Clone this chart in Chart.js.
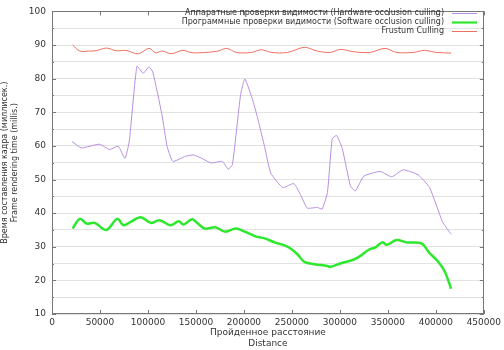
<!DOCTYPE html>
<html>
<head>
<meta charset="utf-8">
<script src="https://cdn.jsdelivr.net/npm/chart.js@4.4.0/dist/chart.umd.min.js"></script>
<style>
  body { margin: 0; background: #fff; }
</style>
</head>
<body>
<canvas id="chart" width="504" height="350"></canvas>
<script>
// distances (x) and frame times (y)
var hwX = [21000, 30500, 49500, 60000, 69000, 76000, 80500, 88500, 95000, 101000, 105000, 114500, 120000, 126000, 139000, 147500, 156000, 166000, 177500, 183500, 188000, 196500, 201000, 209500, 214500, 221500, 228000, 240500, 252000, 259500, 266000, 276500, 281500, 287000, 292000, 296500, 302500, 311000, 316000, 325000, 342000, 354000, 366000, 381500, 393500, 407000, 416000];
var hwY = [61.3, 59.4, 60.5, 58.9, 59.9, 56.3, 61.3, 83.7, 81.6, 83.5, 82.0, 69.4, 59.8, 55.4, 56.9, 57.3, 56.3, 54.9, 55.4, 53.1, 54.4, 75.2, 79.9, 73.3, 68.0, 59.8, 51.9, 47.6, 48.8, 45.2, 41.5, 41.7, 41.2, 46.1, 62.1, 63.1, 59.2, 48.1, 46.6, 51.0, 52.4, 50.8, 52.9, 51.4, 47.6, 37.4, 33.7];

var swX = [21500, 29000, 36000, 44500, 56500, 68000, 74500, 82000, 92500, 103000, 112000, 123500, 132000, 137000, 146000, 152000, 159500, 170000, 180500, 191500, 201000, 213000, 221500, 232000, 242500, 249000, 256000, 263000, 273500, 287000, 290000, 300500, 314500, 321000, 330000, 337000, 344000, 349000, 359000, 369500, 385000, 393500, 402000, 409000, 416000];
var swY = [35.4, 38.3, 36.9, 37.1, 35.0, 38.3, 36.4, 37.4, 38.8, 37.1, 37.9, 36.4, 37.6, 36.6, 38.2, 36.9, 35.4, 35.8, 34.5, 35.4, 34.5, 33.0, 32.5, 31.3, 30.4, 29.4, 27.7, 25.5, 24.8, 24.3, 24.0, 25.0, 26.2, 27.2, 29.1, 29.8, 31.3, 30.6, 32.0, 31.3, 31.0, 28.1, 25.7, 22.8, 17.5];

var frX = [21500, 29000, 38000, 46000, 56500, 67000, 77000, 90000, 101000, 108000, 115000, 124500, 136000, 146000, 160000, 173000, 182000, 192000, 208000, 218000, 228500, 245500, 263000, 276500, 290000, 300500, 314500, 331500, 347000, 359000, 376500, 388000, 400500, 416000];
var frY = [90.0, 88.2, 88.2, 88.3, 89.1, 88.3, 88.4, 87.4, 89.0, 87.7, 88.2, 87.4, 88.4, 87.7, 87.8, 88.2, 89.0, 87.8, 87.8, 88.6, 87.8, 87.8, 89.3, 88.2, 87.8, 88.7, 88.0, 87.8, 89.0, 87.8, 87.8, 88.4, 87.8, 87.6];

var seriesNames = [
  "Аппаратные проверки видимости (Hardware occlusion culling)",
  "Программные проверки видимости (Software occlusion culling)",
  "Frustum Culling"
];
var seriesColors = ["#b68fe0", "#2ee82e", "#ef6f5f"];
var xTitle = ["Пройденное расстояние", "Distance"];
var yTitle = ["Время составления кадра (миллисек.)", "Frame rendering time (millis.)"];

function toPoints(xs, ys) {
  return xs.map(function (x, i) { return {x: x, y: ys[i]}; });
}

var fontFam = "'DejaVu Sans', sans-serif";

// gnuplot style frame, inward ticks and legend
var framePlugin = {
  id: 'frame',
  afterDraw: function (chart) {
    var ctx = chart.ctx;
    var a = chart.chartArea;
    var xs = chart.scales.x, ys = chart.scales.y;
    ctx.save();
    ctx.strokeStyle = '#777';
    ctx.lineWidth = 1;
    ctx.strokeRect(Math.round(a.left) + 0.5, Math.round(a.top) + 0.5,
      Math.round(a.right - a.left) - 1, Math.round(a.bottom - a.top) - 1);
    ctx.beginPath();
    xs.ticks.forEach(function (t) {
      var px = Math.round(xs.getPixelForValue(t.value)) + 0.5;
      ctx.moveTo(px, a.bottom); ctx.lineTo(px, a.bottom - 4);
      ctx.moveTo(px, a.top); ctx.lineTo(px, a.top + 4);
    });
    ys.ticks.forEach(function (t) {
      var py = Math.round(ys.getPixelForValue(t.value)) + 0.5;
      var len = t.value % 10 === 0 ? 4 : 2;
      ctx.moveTo(a.left, py); ctx.lineTo(a.left + len, py);
      ctx.moveTo(a.right, py); ctx.lineTo(a.right - len, py);
    });
    ctx.stroke();

    // legend, text right aligned with the sample on the right
    ctx.font = '8px ' + fontFam;
    ctx.textAlign = 'right';
    ctx.textBaseline = 'middle';
    var rows = [13, 22, 31];
    var widths = [1, 2.2, 1];
    for (var i = 0; i < seriesNames.length; i++) {
      ctx.fillStyle = '#333';
      ctx.fillText(seriesNames[i], 444, rows[i]);
      ctx.strokeStyle = seriesColors[i];
      ctx.lineWidth = widths[i];
      ctx.beginPath();
      ctx.moveTo(452, rows[i] + 0.5);
      ctx.lineTo(477, rows[i] + 0.5);
      ctx.stroke();
    }
    ctx.restore();
  }
};

var ctx = document.getElementById('chart').getContext('2d');
var chart = new Chart(ctx, {
  type: 'line',
  data: {
    datasets: [
      { label: seriesNames[0], data: toPoints(hwX, hwY), borderColor: seriesColors[0], borderWidth: 1, tension: 0.15 },
      { label: seriesNames[1], data: toPoints(swX, swY), borderColor: seriesColors[1], borderWidth: 2.5, tension: 0.35 },
      { label: seriesNames[2], data: toPoints(frX, frY), borderColor: seriesColors[2], borderWidth: 1, tension: 0.35 }
    ]
  },
  options: {
    responsive: false,
    animation: false,
    devicePixelRatio: 1,
    elements: { point: { radius: 0 } },
    layout: { padding: { top: 5, right: 16, left: 0, bottom: 0 } },
    plugins: { legend: { display: false }, tooltip: { enabled: false } },
    scales: {
      x: {
        type: 'linear',
        min: 0,
        max: 450000,
        ticks: {
          stepSize: 50000,
          color: '#333',
          font: { family: fontFam, size: 9 },
          maxRotation: 0,
          padding: 3,
          callback: function (v) { return String(v); }
        },
        grid: { display: false, drawTicks: false },
        border: { display: false },
        title: {
          display: true,
          text: xTitle,
          color: '#333',
          font: { family: fontFam, size: 9, lineHeight: 1.3 },
          padding: { top: 1, bottom: 0 }
        },
        afterFit: function (s) { s.height = 36; }
      },
      y: {
        min: 10,
        max: 100,
        ticks: {
          stepSize: 5,
          color: '#333',
          font: { family: fontFam, size: 9 },
          padding: 6,
          callback: function (v) { return v % 10 === 0 ? String(v) : ''; }
        },
        grid: { color: '#e2e2e2', lineWidth: 1, drawTicks: false },
        border: { display: false },
        title: {
          display: true,
          text: yTitle,
          color: '#333',
          font: { family: fontFam, size: 8, lineHeight: 1.25 },
          padding: { top: 0, bottom: 2 }
        },
        afterFit: function (s) { s.width = 52; }
      }
    }
  },
  plugins: [framePlugin]
});
</script>
</body>
</html>
